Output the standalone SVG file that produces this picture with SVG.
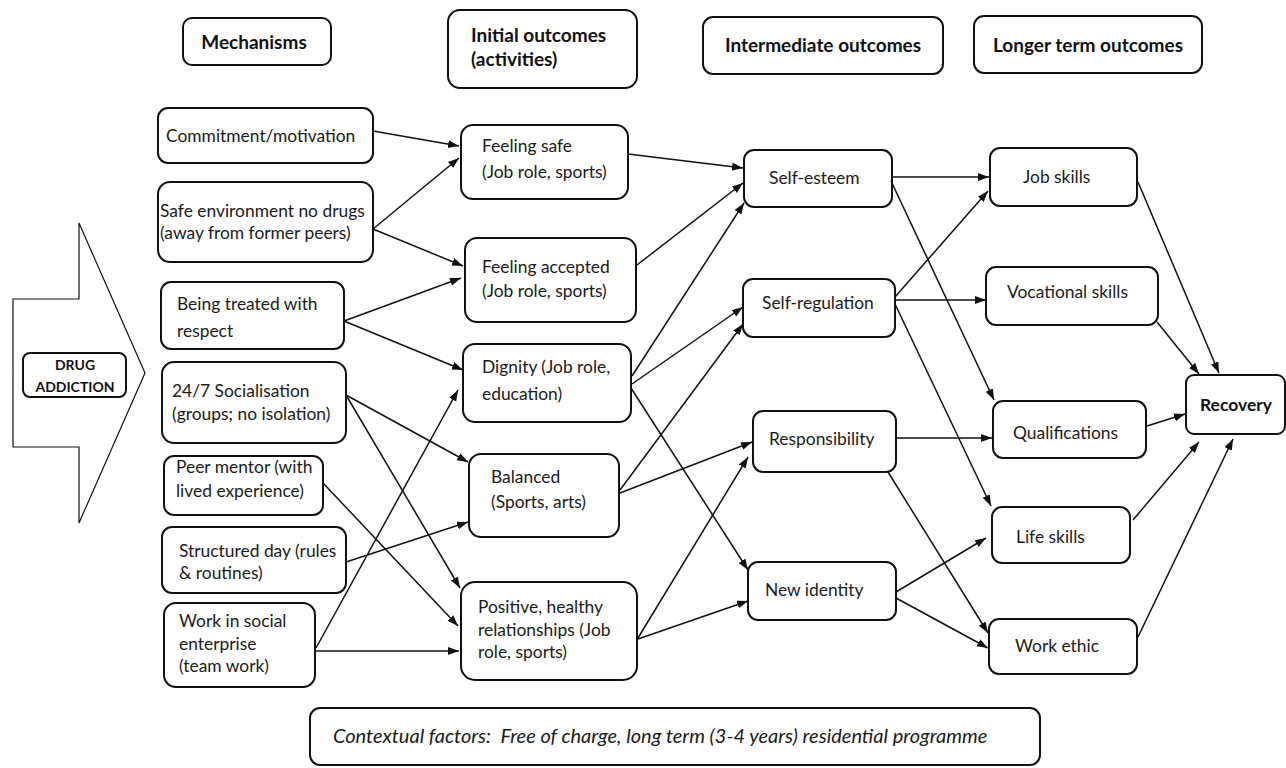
<svg xmlns="http://www.w3.org/2000/svg" width="1286" height="768" viewBox="0 0 1286 768">
<defs>
<marker id="ah" markerUnits="userSpaceOnUse" markerWidth="12" markerHeight="9" refX="11" refY="4" orient="auto">
<path d="M0,0 L11,4 L0,8 z" fill="#111"/>
</marker>
<style>
.b{fill:#fff;stroke:#111;stroke-width:2}
.t{font-family:Lato,"Liberation Sans",sans-serif;font-size:17.4px;fill:#1a1a1a}
.h{font-family:Lato,"Liberation Sans",sans-serif;font-size:19px;font-weight:bold;fill:#111}
.c line{stroke:#111;stroke-width:1.5;marker-end:url(#ah)}
</style>
</defs>
<rect width="1286" height="768" fill="#fff"/>

<g id="drug-addiction">
<polygon points="13,299 79,299 79,223 145,373 79,523 79,447 13,447" fill="#fff" stroke="#111" stroke-width="1.2"/>
<rect x="23" y="353" width="103" height="44" rx="7" class="b"/>
<text class="h" style="font-size:14px" text-anchor="middle"><tspan x="75" y="370">DRUG</tspan><tspan x="75" y="392">ADDICTION</tspan></text>
</g>

<g id="hdr-mechanisms"><rect x="183" y="18" width="148" height="47" rx="9" class="b"/><text class="h" x="254" y="49" text-anchor="middle">Mechanisms</text></g>
<g id="hdr-initial"><rect x="448" y="10" width="189" height="78" rx="12" class="b"/><text class="h"><tspan x="471" y="42">Initial outcomes</tspan><tspan x="471" y="66">(activities)</tspan></text></g>
<g id="hdr-intermediate"><rect x="703" y="17" width="240" height="57" rx="10" class="b"/><text class="h" x="823" y="52" text-anchor="middle">Intermediate outcomes</text></g>
<g id="hdr-longer"><rect x="974" y="16" width="228" height="57" rx="10" class="b"/><text class="h" x="1088" y="52" text-anchor="middle">Longer term outcomes</text></g>

<g id="m-commitment"><rect x="158" y="108" width="215" height="55" rx="10" class="b"/><text class="t" x="166" y="142">Commitment/motivation</text></g>
<g id="m-safe"><rect x="158" y="182" width="215" height="80" rx="12" class="b"/><text class="t"><tspan x="160" y="217">Safe environment no drugs</tspan><tspan x="160" y="239">(away from former peers)</tspan></text></g>
<g id="m-respect"><rect x="161" y="282" width="183" height="67" rx="10" class="b"/><text class="t"><tspan x="177" y="310">Being treated with</tspan><tspan x="177" y="337">respect</tspan></text></g>
<g id="m-social"><rect x="162" y="362" width="184" height="81" rx="12" class="b"/><text class="t"><tspan x="172" y="397">24/7 Socialisation</tspan><tspan x="172" y="420">(groups; no isolation)</tspan></text></g>
<g id="m-peer"><rect x="164" y="456" width="159" height="59" rx="10" class="b"/><text class="t"><tspan x="176" y="473">Peer mentor (with</tspan><tspan x="176" y="497">lived experience)</tspan></text></g>
<g id="m-structured"><rect x="162" y="527" width="184" height="66" rx="10" class="b"/><text class="t"><tspan x="179" y="557">Structured day (rules</tspan><tspan x="179" y="579">&amp; routines)</tspan></text></g>
<g id="m-work"><rect x="164" y="603" width="151" height="84" rx="12" class="b"/><text class="t"><tspan x="179" y="627">Work in social</tspan><tspan x="179" y="650">enterprise</tspan><tspan x="179" y="672">(team work)</tspan></text></g>

<g id="i-safe"><rect x="461" y="125" width="167" height="74" rx="12" class="b"/><text class="t"><tspan x="482" y="152">Feeling safe</tspan><tspan x="482" y="178">(Job role, sports)</tspan></text></g>
<g id="i-accepted"><rect x="465" y="238" width="171" height="84" rx="12" class="b"/><text class="t"><tspan x="482" y="273">Feeling accepted</tspan><tspan x="482" y="297">(Job role, sports)</tspan></text></g>
<g id="i-dignity"><rect x="463" y="344" width="168" height="78" rx="12" class="b"/><text class="t"><tspan x="482" y="373">Dignity (Job role,</tspan><tspan x="482" y="400">education)</tspan></text></g>
<g id="i-balanced"><rect x="469" y="454" width="150" height="83" rx="12" class="b"/><text class="t"><tspan x="491" y="483">Balanced</tspan><tspan x="491" y="508">(Sports, arts)</tspan></text></g>
<g id="i-positive"><rect x="461" y="582" width="176" height="98" rx="14" class="b"/><text class="t"><tspan x="478" y="613">Positive, healthy</tspan><tspan x="478" y="636">relationships (Job</tspan><tspan x="478" y="658">role, sports)</tspan></text></g>

<g id="n-selfesteem"><rect x="744" y="150" width="148" height="57" rx="10" class="b"/><text class="t" x="769" y="184">Self-esteem</text></g>
<g id="n-selfregulation"><rect x="743" y="279" width="152" height="58" rx="10" class="b"/><text class="t" x="762" y="309">Self-regulation</text></g>
<g id="n-responsibility"><rect x="753" y="411" width="143" height="61" rx="10" class="b"/><text class="t" x="769" y="445">Responsibility</text></g>
<g id="n-newidentity"><rect x="748" y="562" width="148" height="58" rx="10" class="b"/><text class="t" x="765" y="596">New identity</text></g>

<g id="l-job"><rect x="990" y="148" width="147" height="58" rx="10" class="b"/><text class="t" x="1023" y="183">Job skills</text></g>
<g id="l-vocational"><rect x="986" y="267" width="172" height="58" rx="10" class="b"/><text class="t" x="1007" y="298">Vocational skills</text></g>
<g id="l-qualifications"><rect x="993" y="401" width="153" height="57" rx="10" class="b"/><text class="t" x="1013" y="439">Qualifications</text></g>
<g id="l-life"><rect x="992" y="507" width="138" height="56" rx="10" class="b"/><text class="t" x="1016" y="543">Life skills</text></g>
<g id="l-workethic"><rect x="989" y="619" width="148" height="55" rx="10" class="b"/><text class="t" x="1015" y="652">Work ethic</text></g>
<g id="recovery"><rect x="1186" y="375" width="99" height="59" rx="8" class="b"/><text class="h" style="font-size:17.5px" x="1236" y="411" text-anchor="middle">Recovery</text></g>

<g id="context"><rect x="310" y="708" width="730" height="57" rx="10" class="b"/><text class="t" style="font-style:italic;font-size:20px" x="333" y="743" xml:space="preserve">Contextual factors:  Free of charge, long term (3-4 years) residential programme</text></g>

<g id="connectors" class="c">
<line x1="373" y1="131" x2="459" y2="146"/>
<line x1="373" y1="229" x2="459" y2="158"/>
<line x1="373" y1="229" x2="463" y2="266"/>
<line x1="344" y1="321" x2="461" y2="278"/>
<line x1="344" y1="321" x2="463" y2="370"/>
<line x1="346" y1="395" x2="468" y2="462"/>
<line x1="346" y1="395" x2="460" y2="588"/>
<line x1="323" y1="483" x2="458" y2="626"/>
<line x1="346" y1="562" x2="468" y2="522"/>
<line x1="316" y1="648" x2="458" y2="390"/>
<line x1="316" y1="651" x2="459" y2="651"/>

<line x1="628" y1="154" x2="743" y2="168"/>
<line x1="637" y1="265" x2="743" y2="183"/>
<line x1="632" y1="376" x2="744" y2="203"/>
<line x1="632" y1="384" x2="743" y2="307"/>
<line x1="631" y1="388" x2="748" y2="570"/>
<line x1="620" y1="490" x2="743" y2="324"/>
<line x1="620" y1="493" x2="752" y2="442"/>
<line x1="638" y1="638" x2="748" y2="457"/>
<line x1="638" y1="639" x2="748" y2="601"/>

<line x1="891" y1="177" x2="989" y2="177"/>
<line x1="891" y1="181" x2="994" y2="400"/>
<line x1="895" y1="297" x2="988" y2="191"/>
<line x1="895" y1="300" x2="986" y2="300"/>
<line x1="895" y1="304" x2="991" y2="506"/>
<line x1="896" y1="438" x2="992" y2="438"/>
<line x1="888" y1="472" x2="988" y2="633"/>
<line x1="896" y1="592" x2="986" y2="538"/>
<line x1="896" y1="598" x2="988" y2="648"/>

<line x1="1138" y1="182" x2="1219" y2="373"/>
<line x1="1157" y1="322" x2="1199" y2="374"/>
<line x1="1147" y1="426" x2="1185" y2="414"/>
<line x1="1133" y1="520" x2="1199" y2="442"/>
<line x1="1138" y1="637" x2="1233" y2="439"/>
</g>
</svg>
